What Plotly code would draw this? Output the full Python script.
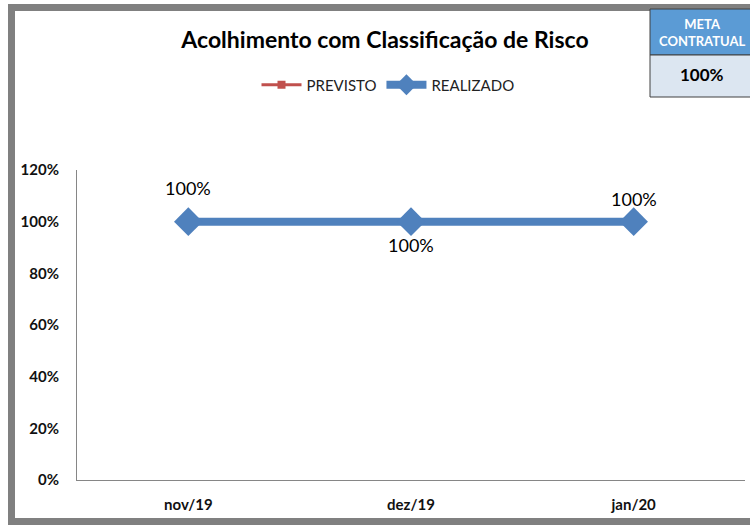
import plotly.graph_objects as go

# Data
months = ["nov/19", "dez/19", "jan/20"]
previsto = [None, None, None]
realizado = [1.0, 1.0, 1.0]
label_shift = [34, -23, 23]  # vertical offset of each value label (px)
y_ticks = [0, 0.2, 0.4, 0.6, 0.8, 1.0, 1.2]
meta_contratual = "100%"

W, H = 750, 528
L, R, T, B = 77, 5, 170, 48
PW, PH = W - L - R, H - T - B


def px(x):
    return (x - L) / PW


def py(y):
    return (H - B - y) / PH


FONT = "Lato, Open Sans, sans-serif"
BLUE = "#4F81BD"
RED = "#C0504D"

fig = go.Figure()
fig.add_trace(go.Scatter(
    x=months, y=previsto, name="PREVISTO", mode="lines+markers",
    line=dict(color=RED, width=3), marker=dict(symbol="square", size=8, color=RED),
))
fig.add_trace(go.Scatter(
    x=months, y=realizado, name="REALIZADO", mode="lines+markers",
    line=dict(color=BLUE, width=8), marker=dict(symbol="diamond", size=22, color=BLUE),
))

for m, v, s in zip(months, realizado, label_shift):
    fig.add_annotation(x=m, y=v, text=f"{v:.0%}", showarrow=False, yshift=s,
                       font=dict(family=FONT, size=18, color="#000"))

# outer frame
frame = "#808080"
shapes = [
    dict(type="rect", xref="paper", yref="paper", x0=px(8), x1=px(760), y0=py(4), y1=py(11),
         fillcolor=frame, line=dict(width=0), layer="below"),
    dict(type="rect", xref="paper", yref="paper", x0=px(8), x1=px(15), y0=py(4), y1=py(525),
         fillcolor=frame, line=dict(width=0), layer="below"),
    dict(type="rect", xref="paper", yref="paper", x0=px(8), x1=px(760), y0=py(518), y1=py(525),
         fillcolor=frame, line=dict(width=0), layer="below"),
    # meta contratual box
    dict(type="rect", xref="paper", yref="paper", x0=px(650), x1=px(752), y0=py(9), y1=py(55),
         fillcolor="#5B9BD5", line=dict(color="#404040", width=1)),
    dict(type="rect", xref="paper", yref="paper", x0=px(650), x1=px(752), y0=py(55), y1=py(97),
         fillcolor="#DCE6F1", line=dict(color="#404040", width=1)),
]
fig.add_annotation(xref="paper", yref="paper", x=px(702), y=py(32), xanchor="center", yanchor="middle",
                   text="<b>META<br>CONTRATUAL</b>", showarrow=False,
                   font=dict(family=FONT, size=13, color="white"))
fig.add_annotation(xref="paper", yref="paper", x=px(702), y=py(74), xanchor="center", yanchor="middle",
                   text=f"<b>{meta_contratual}</b>", showarrow=False,
                   font=dict(family=FONT, size=17, color="#000"))

fig.update_layout(
    width=W, height=H,
    margin=dict(l=L, r=R, t=T, b=B),
    paper_bgcolor="white", plot_bgcolor="white",
    shapes=shapes,
    title=dict(text="<b>Acolhimento com Classificação de Risco</b>", x=385 / W, xanchor="center",
               y=1 - 40 / H, yanchor="middle", font=dict(family=FONT, size=23, color="#000")),
    legend=dict(orientation="h", x=px(388), xanchor="center", y=py(85), yanchor="middle",
                font=dict(family=FONT, size=15, color="#222"), itemwidth=40),
    xaxis=dict(range=[-0.5, 2.5], showgrid=False, showline=True, linecolor="#868686",
               ticks="", ticklabelstandoff=11,
               tickfont=dict(family=FONT, size=15, color="#111", weight="bold")),
    yaxis=dict(range=[0, 1.2], tickvals=y_ticks, tickformat=".0%", showgrid=False,
               showline=True, linecolor="#868686", ticks="", zeroline=False, ticklabelstandoff=14,
               tickfont=dict(family=FONT, size=15, color="#111", weight="bold")),
)

fig.write_html("out.html")
